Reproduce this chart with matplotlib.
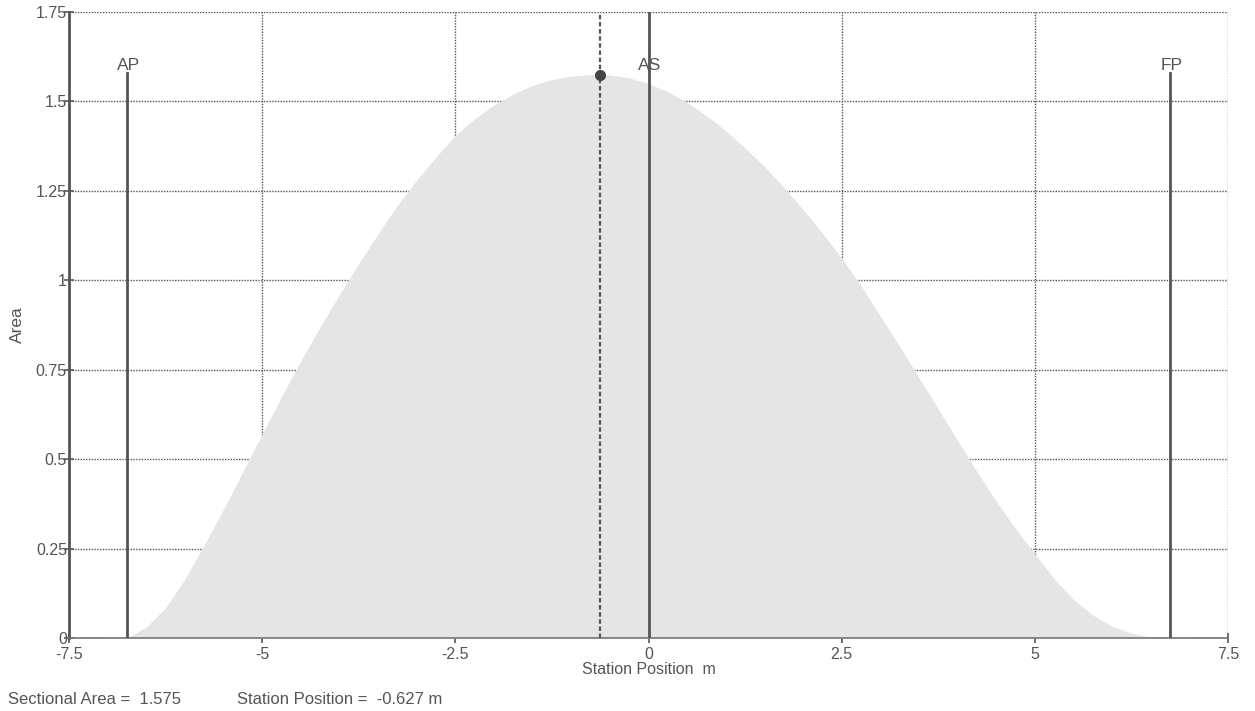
import matplotlib
matplotlib.use("Agg")
import matplotlib.pyplot as plt

plt.rcParams['font.family'] = ['Liberation Sans', 'DejaVu Sans']

# Sectional area curve
stations = [-6.75, -6.5, -6.25, -6.0, -5.75, -5.5, -5.25, -5.0, -4.75, -4.5, -4.25,
            -4.0, -3.75, -3.5, -3.25, -3.0, -2.75, -2.5, -2.25, -2.0, -1.75, -1.5,
            -1.25, -1.0, -0.75, -0.5, -0.25, 0.0, 0.25, 0.5, 0.75, 1.0, 1.25, 1.5,
            1.75, 2.0, 2.25, 2.5, 2.75, 3.0, 3.25, 3.5, 3.75, 4.0, 4.25, 4.5, 4.75,
            5.0, 5.25, 5.5, 5.75, 6.0, 6.25, 6.5, 6.75]
areas = [0.0, 0.03, 0.085, 0.165, 0.26, 0.36, 0.465, 0.57, 0.675, 0.775, 0.87,
         0.96, 1.047, 1.13, 1.21, 1.28, 1.345, 1.405, 1.452, 1.49, 1.521, 1.545,
         1.561, 1.571, 1.575, 1.574, 1.566, 1.55, 1.527, 1.497, 1.46, 1.418, 1.37, 1.318,
         1.26, 1.198, 1.132, 1.062, 0.985, 0.90, 0.815, 0.728, 0.64, 0.552, 0.465, 0.382, 0.305,
         0.235, 0.165, 0.108, 0.064, 0.033, 0.013, 0.003, 0.0]

# Reference stations
ref_names = ["AP", "AS", "FP"]
ref_pos = [-6.75, 0.0, 6.75]
ref_top = [1.58, 1.75, 1.58]

# Selected point
sel_station = -0.627
sel_area = 1.575

xticks = [-7.5, -5, -2.5, 0, 2.5, 5, 7.5]
xtick_labels = ["-7.5", "-5", "-2.5", "0", "2.5", "5", "7.5"]
yticks = [0, 0.25, 0.5, 0.75, 1.0, 1.25, 1.5, 1.75]
ytick_labels = ["0", "0.25", "0.5", "0.75", "1", "1.25", "1.5", "1.75"]

dark = "#555555"

fig = plt.figure(figsize=(12.55, 7.11), dpi=100)
ax = fig.add_axes([0.055, 0.1027, 0.9235, 0.8804])
ax.set_xlim(-7.5, 7.5)
ax.set_ylim(0, 1.75)

ax.grid(True, color=dark, linestyle=(0, (1, 1)), linewidth=1.0, zorder=0)
ax.set_axisbelow(True)

ax.fill_between(stations, areas, 0, color="#e5e5e5", linewidth=0, zorder=1)

for name, pos, top in zip(ref_names, ref_pos, ref_top):
    ax.plot([pos, pos], [0, top], color=dark, linewidth=2.0, zorder=3)
    ax.text(pos + 0.02, 1.589, name, ha="center", va="baseline", fontsize=12.5,
            color=dark, zorder=4)

ax.plot([sel_station, sel_station], [0, 1.75], color=dark, linewidth=1.6,
        linestyle=(0, (2, 1.2)), zorder=3)
ax.plot([sel_station], [sel_area], marker="o", markersize=7, color="#444444", zorder=5)

ax.set_xticks(xticks)
ax.set_xticklabels(xtick_labels)
ax.set_yticks(yticks)
ax.set_yticklabels(ytick_labels)
ax.tick_params(axis="both", direction="inout", length=7, width=1.2, colors=dark,
               labelsize=11.5, labelcolor=dark)
ax.tick_params(axis="y", pad=-2)
ax.tick_params(axis="x", pad=3)

for side in ["top", "right"]:
    ax.spines[side].set_visible(False)
ax.spines["left"].set_color(dark)
ax.spines["left"].set_linewidth(2.0)
ax.spines["bottom"].set_color("#777777")
ax.spines["bottom"].set_linewidth(1.2)

ax.set_xlabel("Station Position  m", fontsize=11.5, color=dark, labelpad=0)
ax.set_ylabel("Area", fontsize=12.5, color=dark, labelpad=8)

fig.text(8 / 1255, 1 - 699 / 711, "Sectional Area =  1.575", fontsize=12, color=dark,
         ha="left", va="center")
fig.text(237 / 1255, 1 - 699 / 711, "Station Position =  -0.627 m", fontsize=12, color=dark,
         ha="left", va="center")

fig.savefig("out.png", dpi=100, facecolor="white")
